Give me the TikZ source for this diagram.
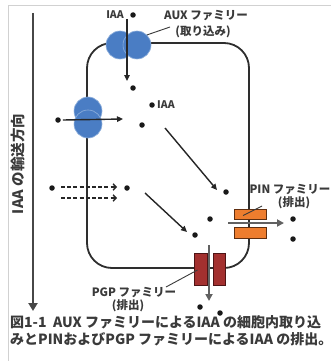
\documentclass[tikz,border=0pt]{standalone}
\usepackage{fontspec}
\setmainfont{Noto Sans CJK JP}
\usetikzlibrary{arrows.meta}

\definecolor{ink}{HTML}{3A3A3A}
\definecolor{auxblue}{HTML}{4A7DC4}
\definecolor{auxedge}{HTML}{8FB0DC}
\definecolor{pinfill}{HTML}{EE7D2E}
\definecolor{pinedge}{HTML}{5E2E10}
\definecolor{pgpfill}{HTML}{A3302F}
\definecolor{pgpedge}{HTML}{4E1415}

\begin{document}
\begin{tikzpicture}[x=1pt,y=-1pt,
  cellwall/.style={draw=black!82, line width=1.8pt, rounded corners=25pt, inner sep=0pt},
  auxunit/.style={circle, fill=auxblue, draw=auxedge, line width=0.6pt, inner sep=0pt, minimum size=28pt},
  pinunit/.style={rectangle, fill=pinfill, draw=pinedge, line width=1pt, inner sep=0pt, minimum width=32pt},
  pgpunit/.style={rectangle, fill=pgpfill, draw=pgpedge, line width=1pt, inner sep=0pt, minimum height=32pt},
  molecule/.style={circle, fill=black!90, inner sep=0pt, minimum size=5.5pt},
  movearrow/.style={draw=black!85, line width=1.4pt, -{Triangle[length=6pt,width=5.5pt]}},
  passarrow/.style={draw=black!85, line width=1.4pt, dash pattern=on 4pt off 2.2pt, -{Straight Barb[length=3pt,width=6.5pt,line width=1.4pt]}},
  pumparrow/.style={draw=black!62, line width=2.2pt, -{Triangle[length=7pt,width=7pt]}},
  flowarrow/.style={draw=black!72, line width=2.6pt, -{Triangle[length=8pt,width=9pt]}},
  leader/.style={draw=ink, line width=0.9pt},
  lbl/.style={text=ink, inner sep=0pt, font=\bfseries\fontsize{11.5}{13}\selectfont},
  iaa/.style={text=ink, inner sep=0pt, font=\bfseries\fontsize{10.5}{12}\selectfont},
  caption/.style={text=ink, inner sep=0pt, anchor=west, font=\bfseries\fontsize{14}{16}\selectfont}
]
\useasboundingbox (0,0) rectangle (331,361);
\fill[white] (0,0) rectangle (331,361);

% outer frame
\draw[black!18, line width=1pt] (8,361) -- (8,6) -- (331,6);

% direction of transport
\coordinate (flowtop) at (33,13);
\coordinate (flowend) at (33,311);
\draw[flowarrow] (flowtop) -- (flowend);
\node[rotate=90, text=ink, inner sep=0pt, font=\bfseries\fontsize{14.5}{17}\selectfont] (flowlabel) at (18,164) {IAA の輸送方向};

% the cell
\node[cellwall, minimum width=162pt, minimum height=225pt] (cell) at (168,155.5) {};

% AUX carriers
\node[auxunit] (auxA) at (120,45) {};
\node[auxunit] (auxB) at (137,45) {};
\node[auxunit] (sideA) at (88,111) {};
\node[auxunit] (sideB) at (88,124) {};

% PIN carrier
\node[pinunit, minimum height=10pt] (pinA) at (250,214.5) {};
\node[pinunit, minimum height=11pt] (pinB) at (250,232.5) {};

% PGP carrier
\node[pgpunit, minimum width=13pt] (pgpA) at (200.5,269) {};
\node[pgpunit, minimum width=12pt] (pgpB) at (219,269) {};

% IAA molecules
\node[molecule] (m1) at (133,15) {};
\node[molecule] (m2) at (133,88) {};
\node[molecule] (m3) at (152,105) {};
\node[molecule] (m4) at (58,120) {};
\node[molecule] (m5) at (142,125) {};
\node[molecule] (m6) at (226,192) {};
\node[molecule] (m7) at (52,188) {};
\node[molecule] (m8) at (127,188) {};
\node[molecule] (m9) at (210,219) {};
\node[molecule] (m10) at (195,235) {};
\node[molecule] (m11) at (293,219) {};
\node[molecule] (m12) at (293,239) {};
\node[molecule] (m13) at (200,307) {};
\node[molecule] (m14) at (220,313) {};

% uptake and movement
\coordinate (inTop) at (127,19);
\coordinate (inTopEnd) at (127,81);
\draw[movearrow] (inTop) -- (inTopEnd);
\coordinate (inSideEnd) at (123,119);
\draw[movearrow] (m4.east) ++(2,0) coordinate (inSide) -- (inSideEnd);
\coordinate (diagA) at (165,128);
\coordinate (diagAEnd) at (217,190);
\draw[movearrow] (diagA) -- (diagAEnd);
\coordinate (diagB) at (145,193);
\coordinate (diagBEnd) at (187,232);
\draw[movearrow] (diagB) -- (diagBEnd);

% diffusion
\coordinate (difA) at (61,187);
\coordinate (difAEnd) at (117,187);
\draw[passarrow] (difA) -- (difAEnd);
\coordinate (difB) at (61,198);
\coordinate (difBEnd) at (117,198);
\draw[passarrow] (difB) -- (difBEnd);

% efflux
\coordinate (pinIn) at (228,223);
\coordinate (pinOut) at (284,223);
\draw[pumparrow] (pinIn) -- (pinOut);
\coordinate (pgpIn) at (209,245);
\coordinate (pgpOut) at (209,301);
\draw[pumparrow] (pgpIn) -- (pgpOut);

% labels
\node[iaa, anchor=east] (lblTop) at (124,15) {IAA};
\node[iaa, anchor=west] (lblIn) at (157,105) {IAA};

\node[lbl] (auxName) at (206,16) {AUX ファミリー};
\node[lbl] (auxRole) at (203,32) {(取り込み)};
\coordinate (auxTip) at (170,27);
\draw[leader] (auxB.north east) -- (auxTip);

\node[lbl] (pinName) at (290,190) {PIN ファミリー};
\node[lbl] (pinRole) at (294,203) {(排出)};
\coordinate (pinTip) at (262,206);
\draw[leader] (pinA.center) ++(-7,1) coordinate (pinFoot) -- (pinTip);

\node[lbl] (pgpName) at (134,293) {PGP ファミリー};
\node[lbl] (pgpRole) at (128,306) {(排出)};
\coordinate (pgpTip) at (166,287);
\draw[leader] (pgpA.center) ++(-3,1) coordinate (pgpFoot) -- (pgpTip);

% caption
\node[caption] (cap1) at (10,322) {図1-1\ \ AUX ファミリーによるIAA の細胞内取り込};
\node[caption] (cap2) at (10,339) {みとPINおよびPGP ファミリーによるIAA の排出。};
\end{tikzpicture}
\end{document}
